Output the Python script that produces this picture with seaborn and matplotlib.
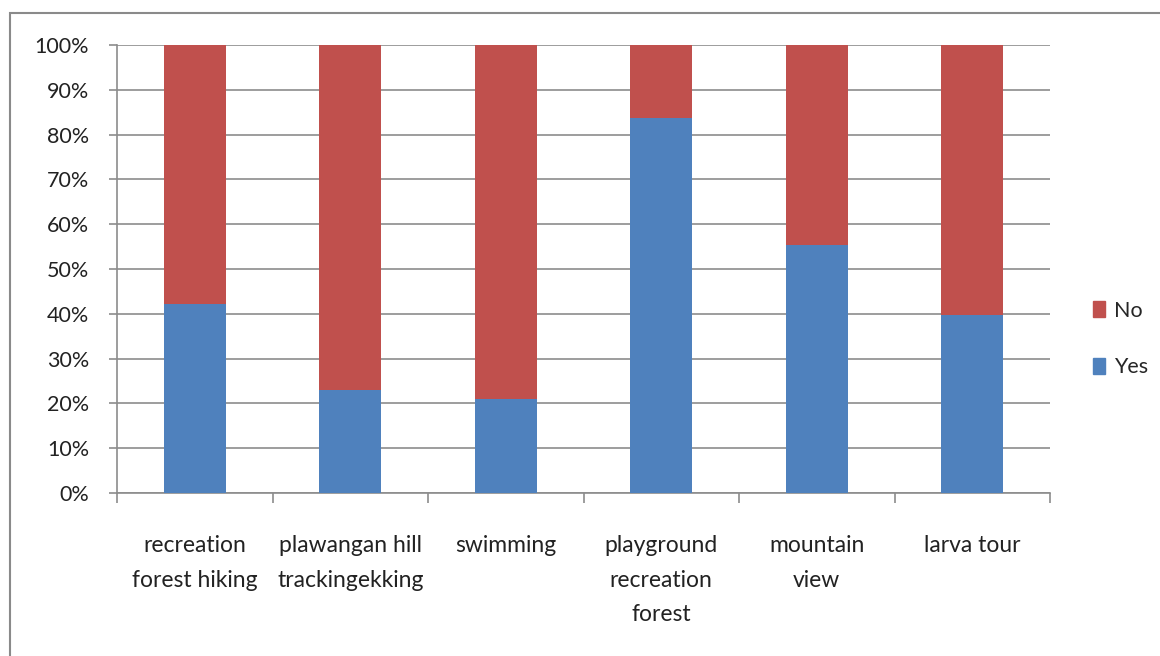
import pandas as pd
import matplotlib
matplotlib.use("Agg")
import matplotlib.pyplot as plt
import seaborn as sns
from matplotlib.patches import Patch, Rectangle
from matplotlib.ticker import FuncFormatter, FixedLocator

# data
activities = ["recreation\nforest hiking", "plawangan hill\ntrackingekking", "swimming",
              "playground\nrecreation\nforest", "mountain\nview", "larva tour"]
yes_pct = [42.2, 23.0, 21.0, 83.8, 55.4, 39.7]
no_pct = [100 - v for v in yes_pct]

df = pd.DataFrame({"activity": activities, "Yes": yes_pct, "No": no_pct})
df["total"] = df["Yes"] + df["No"]

sns.set_style("white")
plt.rcParams["font.family"] = ["Lato", "DejaVu Sans"]

red = "#C0504D"
blue = "#4F81BD"
grey = "#8C8C8C"

fig = plt.figure(figsize=(11.6, 6.56), dpi=100)
ax = fig.add_axes([117 / 1160, 1 - 493 / 656, (1050 - 117) / 1160, (493 - 45) / 656])

# stacked 100% bars: full bar in red, yes part on top in blue
sns.barplot(data=df, x="activity", y="total", color=red, width=0.4, saturation=1,
            linewidth=0, ax=ax, zorder=3)
sns.barplot(data=df, x="activity", y="Yes", color=blue, width=0.4, saturation=1,
            linewidth=0, ax=ax, zorder=4)

ax.set_ylim(0, 100)
ax.set_xlim(-0.5, len(activities) - 0.5)
ax.set_yticks(range(0, 101, 10))
ax.yaxis.set_major_formatter(FuncFormatter(lambda v, p: f"{int(v)}%"))
ax.grid(axis="y", color=grey, linewidth=1.2, zorder=0)
ax.set_axisbelow(True)
ax.set_xlabel("")
ax.set_ylabel("")

for s in ["top", "right"]:
    ax.spines[s].set_visible(False)
for s in ["left", "bottom"]:
    ax.spines[s].set_color(grey)
    ax.spines[s].set_linewidth(1.2)

ax.tick_params(axis="y", which="major", left=True, length=6, width=1.2, color=grey,
               pad=14, labelsize=15.5, labelcolor="#222222")
# category boundaries as tick marks, labels at the centres
ax.xaxis.set_minor_locator(FixedLocator([i - 0.5 for i in range(len(activities) + 1)]))
ax.tick_params(axis="x", which="minor", bottom=True, length=7, width=1.2, color=grey)
ax.tick_params(axis="x", which="major", bottom=False, pad=27, labelsize=16.5, labelcolor="#222222")
for lbl in ax.get_xticklabels():
    lbl.set_linespacing(1.78)
    lbl.set_verticalalignment("top")

handles = [Patch(color=red, label="No"), Patch(color=blue, label="Yes")]
fig.legend(handles=handles, loc="center left", bbox_to_anchor=(1074 / 1160, 1 - 339 / 656),
           frameon=False, fontsize=15.5, handlelength=0.55, handleheight=0.8,
           handletextpad=0.4, labelspacing=1.7)

# chart area border
fig.patches.append(Rectangle((10 / 1160, -0.05), 1.2, 1.05 - 13 / 656,
                             transform=fig.transFigure, fill=False,
                             edgecolor="#8A8A8A", linewidth=1.5, zorder=0))

fig.savefig("out.png", dpi=100)
